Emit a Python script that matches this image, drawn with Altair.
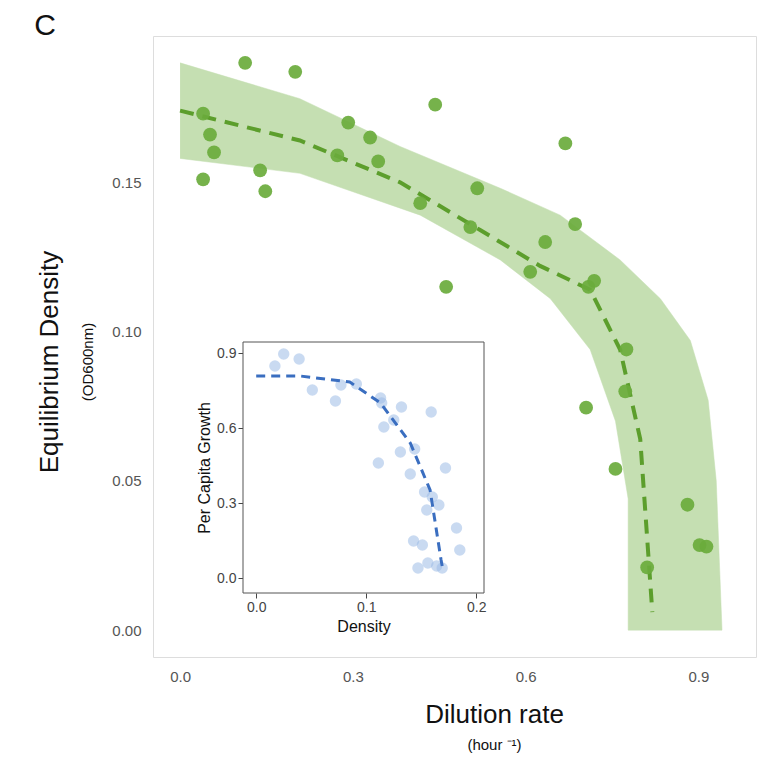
import altair as alt
import pandas as pd

# main panel: dilution rate vs equilibrium density
dil = [0.040, 0.052, 0.059, 0.040, 0.113, 0.139, 0.148, 0.200, 0.273, 0.292, 0.330,
       0.344, 0.417, 0.443, 0.462, 0.504, 0.516, 0.608, 0.634, 0.669, 0.686, 0.705,
       0.709, 0.719, 0.775, 0.773, 0.756, 0.811, 0.881, 0.902, 0.914]
dens = [0.173, 0.166, 0.160, 0.151, 0.190, 0.154, 0.147, 0.187, 0.159, 0.170, 0.165,
        0.157, 0.143, 0.176, 0.115, 0.135, 0.148, 0.120, 0.130, 0.163, 0.136, 0.0745,
        0.115, 0.117, 0.094, 0.080, 0.054, 0.021, 0.042, 0.0285, 0.028]

fit_x = [0.0, 0.208, 0.382, 0.521, 0.625, 0.712, 0.764, 0.799, 0.820]
fit_y = [0.174, 0.164, 0.150, 0.134, 0.122, 0.114, 0.094, 0.064, 0.006]

band_x = [0.0, 0.208, 0.382, 0.556, 0.660, 0.764, 0.834, 0.886, 0.917, 0.931, 0.941,
          0.778, 0.778, 0.756, 0.712, 0.643, 0.556, 0.417, 0.208, 0.0]
band_y = [0.190, 0.178, 0.162, 0.148, 0.139, 0.124, 0.111, 0.097, 0.077, 0.050, 0.0,
          0.0, 0.044, 0.070, 0.094, 0.111, 0.124, 0.139, 0.153, 0.158]

# inset: density vs per capita growth
in_d = [0.017, 0.025, 0.039, 0.051, 0.072, 0.077, 0.091, 0.113, 0.114, 0.116, 0.111,
        0.125, 0.132, 0.131, 0.144, 0.140, 0.153, 0.159, 0.160, 0.155, 0.166, 0.172,
        0.143, 0.151, 0.147, 0.156, 0.164, 0.169, 0.182, 0.185]
in_g = [0.848, 0.896, 0.876, 0.752, 0.708, 0.772, 0.776, 0.720, 0.700, 0.604, 0.460,
        0.632, 0.684, 0.504, 0.516, 0.416, 0.344, 0.664, 0.324, 0.272, 0.292, 0.440,
        0.148, 0.132, 0.040, 0.060, 0.048, 0.040, 0.200, 0.112]
in_fx = [0.0, 0.04, 0.085, 0.113, 0.14, 0.158, 0.168, 0.17]
in_fy = [0.808, 0.808, 0.784, 0.700, 0.540, 0.352, 0.072, 0.024]

W, H = 603, 621
pts = pd.DataFrame({"x": dil, "y": dens})
fit = pd.DataFrame({"x": fit_x, "y": fit_y})
band = pd.DataFrame({"x": band_x, "y": band_y, "o": list(range(len(band_x)))})

xs = alt.Scale(domain=[-0.047, 1.0], nice=False, zero=False)
ys = alt.Scale(domain=[-0.009, 0.199], nice=False, zero=False)
xax = alt.Axis(orient="bottom", values=[0.0, 0.3, 0.6, 0.9], format=".1f", ticks=False, domain=False,
               grid=False, labelFontSize=15, labelColor="#555", labelPadding=12, title=None)
yax = alt.Axis(orient="left", values=[0.0, 0.05, 0.1, 0.15], format=".2f", ticks=False, domain=False,
               grid=False, labelFontSize=15, labelColor="#555", labelPadding=12, title=None)

bandc = alt.Chart(band).mark_line(filled=True, fill="#c5dfb2", stroke="#c5dfb2", strokeWidth=0.5).encode(
    x=alt.X("x:Q", scale=xs, axis=xax), y=alt.Y("y:Q", scale=ys, axis=yax), order="o:Q")
fitc = alt.Chart(fit).mark_line(color="#5c9e2c", strokeWidth=4, strokeDash=[14, 9]).encode(
    x=alt.X("x:Q", scale=xs), y=alt.Y("y:Q", scale=ys))
ptc = alt.Chart(pts).mark_circle(size=190, color="#6aab3c", opacity=0.92).encode(
    x=alt.X("x:Q", scale=xs), y=alt.Y("y:Q", scale=ys))
main = alt.layer(bandc, fitc, ptc)

# inset placed with pixel ranges inside the main plot area
X0, X1, Y0, Y1 = 90, 331, 306, 557
ipts = pd.DataFrame({"x": in_d, "y": in_g})
ifit = pd.DataFrame({"x": in_fx, "y": in_fy})
ixs = alt.Scale(domain=[-0.012, 0.207], nice=False, zero=False, range=[X0, X1])
iys = alt.Scale(domain=[-0.06, 0.944], nice=False, zero=False, range=[Y1, Y0])
ixax = alt.Axis(orient="bottom", values=[0.0, 0.1, 0.2], format=".1f", grid=False, domain=False,
                offset=-(H - Y1), labelFontSize=14, labelColor="#444", tickColor="#444", title="Density",
                titleFontSize=16, titleFontWeight="normal", titleColor="#111", titleX=(X0 + X1) / 2)
iyax = alt.Axis(orient="left", values=[0.0, 0.3, 0.6, 0.9], format=".1f", grid=False, domain=False,
                offset=-X0, labelFontSize=14, labelColor="#444", tickColor="#444", title="Per Capita Growth",
                titleFontSize=16, titleFontWeight="normal", titleColor="#111", titleY=(Y0 + Y1) / 2)

box = alt.Chart(pd.DataFrame({"a": [0]})).mark_rect(fill="white", stroke="#555", strokeWidth=1).encode(
    x=alt.value(X0), x2=alt.value(X1), y=alt.value(Y0), y2=alt.value(Y1))
iptc = alt.Chart(ipts).mark_circle(size=130, color="#9dbbe6", opacity=0.55).encode(
    x=alt.X("x:Q", scale=ixs, axis=ixax), y=alt.Y("y:Q", scale=iys, axis=iyax))
ifitc = alt.Chart(ifit).mark_line(color="#3a6ec0", strokeWidth=3, strokeDash=[9, 6]).encode(
    x=alt.X("x:Q", scale=ixs), y=alt.Y("y:Q", scale=iys))
inset = alt.layer(iptc, ifitc)


def label(txt, x, y, size, angle=0, weight="normal"):
    return alt.Chart(pd.DataFrame({"a": [0]})).mark_text(
        text=txt, fontSize=size, angle=angle, color="#111", fontWeight=weight, align="center").encode(
        x=alt.value(x), y=alt.value(y))


texts = alt.layer(
    label("Dilution rate", W / 2 + 40, 679, 26),
    label("(hour ⁻¹)", W / 2 + 40, 709, 15),
    label("Equilibrium Density", -103, 326, 26, angle=270),
    label("(OD600nm)", -65, 326, 15, angle=270),
    label("C", -108, -10, 30),
)

chart = alt.layer(main, box, inset, texts).resolve_scale(x="independent", y="independent").properties(
    width=W, height=H, autosize=alt.AutoSizeParams(type="none"),
    padding={"left": 145, "top": 28, "right": 10, "bottom": 100},
).configure_view(stroke="#888", strokeWidth=1).configure(font="Liberation Sans")

chart.save("out.html", embed_options={"renderer": "svg", "actions": False})
